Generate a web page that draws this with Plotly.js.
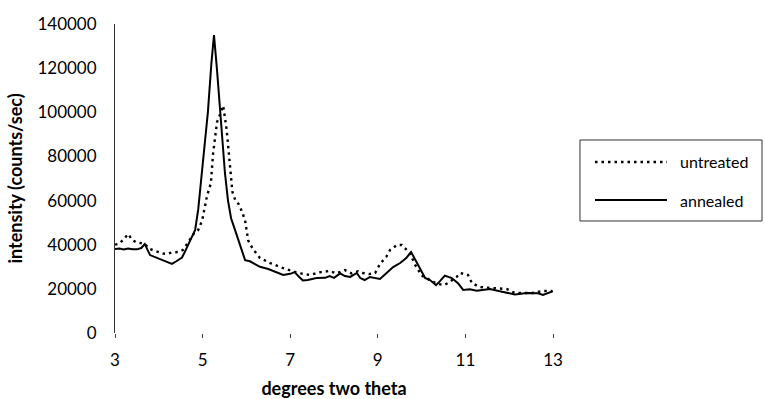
<!DOCTYPE html>
<html>
<head>
<meta charset="utf-8">
<script src="https://cdn.plot.ly/plotly-3.0.1.min.js"></script>
<style>html,body{margin:0;padding:0;background:#fff;}#chart{width:765px;height:399px;}</style>
</head>
<body>
<div id="chart"></div>
<script>
const seriesNames = ["untreated", "annealed"];
const xTicks = [3, 5, 7, 9, 11, 13];

const untreatedX = [3.0, 3.1, 3.2, 3.3, 3.4, 3.5, 3.57, 3.68, 3.8, 3.98, 4.1, 4.2, 4.3, 4.45, 4.55, 4.7, 4.8, 4.9, 4.99, 5.1, 5.19, 5.24, 5.33, 5.4, 5.47, 5.55, 5.6, 5.68, 5.75, 5.82, 5.9, 5.97, 6.04, 6.15, 6.31, 6.54, 6.84, 7.0, 7.18, 7.45, 7.7, 7.9, 8.05, 8.25, 8.4, 8.55, 8.66, 8.8, 8.94, 9.05, 9.19, 9.28, 9.44, 9.55, 9.62, 9.73, 9.85, 10.0, 10.19, 10.33, 10.5, 10.6, 10.8, 10.88, 11.06, 11.15, 11.33, 11.6, 11.95, 12.13, 12.52, 12.77, 12.98];
const untreatedY = [40000, 40500, 42500, 44800, 42000, 41000, 40800, 40300, 38000, 36700, 36000, 35800, 36500, 36700, 37600, 42000, 45000, 46700, 51000, 62000, 68000, 81500, 95600, 99000, 103000, 92000, 80000, 64000, 60000, 58500, 55000, 51000, 42000, 38000, 34000, 31700, 29400, 28500, 27200, 26300, 27600, 28100, 27000, 28500, 27000, 28000, 27200, 26700, 27200, 31300, 34400, 37600, 39900, 39900, 38500, 36200, 31000, 26000, 24000, 22500, 21700, 22600, 25400, 27200, 26300, 22600, 20800, 20500, 19900, 18100, 18100, 19000, 19000];

const annealedX = [3.0, 3.1, 3.2, 3.3, 3.4, 3.5, 3.6, 3.68, 3.8, 3.9, 4.0, 4.1, 4.2, 4.3, 4.4, 4.53, 4.6, 4.7, 4.83, 4.9, 5.0, 5.05, 5.12, 5.2, 5.26, 5.33, 5.4, 5.45, 5.51, 5.58, 5.65, 5.74, 5.85, 5.97, 6.08, 6.2, 6.31, 6.5, 6.7, 6.84, 7.0, 7.1, 7.2, 7.29, 7.4, 7.6, 7.8, 7.9, 8.0, 8.14, 8.25, 8.37, 8.52, 8.6, 8.7, 8.82, 9.05, 9.2, 9.35, 9.51, 9.65, 9.76, 9.92, 10.08, 10.19, 10.33, 10.42, 10.53, 10.69, 10.83, 10.95, 11.1, 11.26, 11.56, 11.86, 12.13, 12.4, 12.66, 12.77, 12.89, 13.0];
const annealedY = [38000, 38300, 37800, 38300, 38000, 37900, 38500, 40300, 35300, 34500, 33800, 33000, 32300, 31300, 32500, 34200, 37000, 41000, 46700, 56000, 75000, 87400, 100000, 122000, 135000, 119000, 100000, 87000, 72500, 60000, 52000, 46700, 40000, 33000, 32500, 31000, 30000, 29000, 27500, 26300, 26800, 27600, 25500, 23800, 24000, 24900, 25000, 25800, 25000, 27000, 25800, 25400, 27200, 24900, 24000, 25400, 24500, 27000, 29900, 31700, 34000, 36700, 30800, 24900, 24000, 21700, 23500, 26000, 24900, 22600, 19500, 19800, 19200, 19900, 18600, 17500, 18100, 18000, 17200, 18000, 19000];

const FONT = "Lato, 'DejaVu Sans', sans-serif";
const DOT = "2.5px,4px";

const traces = [
  {x: untreatedX, y: untreatedY, name: seriesNames[0], type: "scatter", mode: "lines",
   line: {color: "#000", width: 2.4, dash: DOT}},
  {x: annealedX, y: annealedY, name: seriesNames[1], type: "scatter", mode: "lines",
   line: {color: "#000", width: 2}}
];

// hand-drawn legend (paper coordinates)
const legBox = {x0: 1.0616, x1: 1.4772, y0: 0.3625, y1: 0.6246};
const legRows = [0.5534, 0.4304];
const legSample = [1.0959, 1.2603];
const legTextX = 1.2854;

const shapes = [
  {type: "rect", xref: "paper", yref: "paper", x0: legBox.x0, x1: legBox.x1, y0: legBox.y0, y1: legBox.y1,
   line: {color: "#333", width: 1}, fillcolor: "rgba(0,0,0,0)"}
];
const annotations = [];
seriesNames.forEach((n, i) => {
  shapes.push({type: "line", xref: "paper", yref: "paper", x0: legSample[0], x1: legSample[1],
               y0: legRows[i], y1: legRows[i],
               line: {color: "#000", width: i === 0 ? 2.4 : 2, dash: i === 0 ? DOT : "solid"}});
  annotations.push({xref: "paper", yref: "paper", x: legTextX, y: legRows[i], xanchor: "left", yanchor: "middle",
                    text: n, showarrow: false, font: {family: FONT, size: 16, color: "#000"}});
});

const layout = {
  width: 765, height: 399,
  margin: {l: 115, r: 212, t: 24, b: 66},
  paper_bgcolor: "#fff", plot_bgcolor: "#fff",
  font: {family: FONT, size: 16, color: "#000"},
  showlegend: false,
  shapes: shapes,
  annotations: annotations,
  xaxis: {range: [3, 13], tickvals: xTicks, ticktext: xTicks.map(String),
          showgrid: false, zeroline: false, showline: false,
          ticks: "outside", ticklen: 4, tickcolor: "#444", tickwidth: 1,
          ticklabelstandoff: 8,
          tickfont: {family: FONT, size: 17, color: "#000"},
          title: {text: "degrees two theta", standoff: 16,
                  font: {family: FONT, size: 18, color: "#000", weight: "bold"}}},
  yaxis: {range: [0, 140000], dtick: 20000, tick0: 0,
          showgrid: false, zeroline: false, showline: true,
          linecolor: "#333", linewidth: 1, ticks: "",
          ticklabelstandoff: 14, tickformat: "d",
          tickfont: {family: FONT, size: 17, color: "#000"},
          title: {text: "intensity (counts/sec)", standoff: 10,
                  font: {family: FONT, size: 18, color: "#000", weight: "bold"}}}
};

Plotly.newPlot("chart", traces, layout, {displayModeBar: false, staticPlot: true});
</script>
</body>
</html>
